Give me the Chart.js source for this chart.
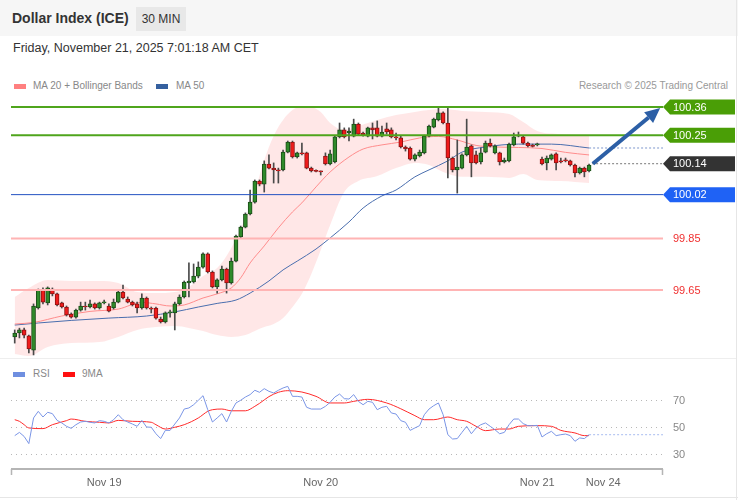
<!DOCTYPE html>
<html lang="en">
<head>
<meta charset="UTF-8">
<title>Dollar Index (ICE)</title>
<script src="https://cdn.jsdelivr.net/npm/chart.js@4.4.1/dist/chart.umd.min.js"></script>
<style>
  body { margin: 0; width: 738px; height: 500px; overflow: hidden; background: #fff;
         font-family: "Liberation Sans", Arial, sans-serif; position: relative; }
  .abs { position: absolute; white-space: nowrap; }
  #head { left: 0; top: 0; width: 738px; height: 36px; background: #f6f6f6; }
  #title { left: 12px; top: 9px; line-height: 18px; font-size: 14px; font-weight: bold; color: #333; }
  #tf { left: 136px; top: 7px; width: 50px; height: 24px; line-height: 24px; text-align: center;
        background: #e8e8e8; font-size: 12px; color: #333; }
  #date { left: 13px; top: 40px; line-height: 16px; font-size: 12.5px; color: #333; }
  .lg { font-size: 10px; line-height: 12px; color: #888; }
  .sw { height: 5px; width: 12px; }
  #frameR { left: 736px; top: 0; width: 1px; height: 500px; background: #e6e6e6; }
  #frameB { left: 0; top: 497px; width: 738px; height: 1px; background: #e6e6e6; }
  #sep { left: 0; top: 358px; width: 737px; height: 1px; background: #eeeeee; }
  canvas { position: absolute; left: 0; }
</style>
</head>
<body>
<div class="abs" id="head"></div>
<div class="abs" id="title">Dollar Index (ICE)</div>
<div class="abs" id="tf">30 MIN</div>
<div class="abs" id="date">Friday, November 21, 2025 7:01:18 AM CET</div>

<div class="abs sw" style="left:14px;top:84px;background:#ff8080"></div>
<div class="abs lg" style="left:33px;top:80px">MA 20 + Bollinger Bands</div>
<div class="abs sw" style="left:156px;top:84px;background:#35609f"></div>
<div class="abs lg" style="left:176px;top:80px">MA 50</div>
<div class="abs lg" style="right:10px;top:80px;color:#999">Research © 2025 Trading Central</div>

<div class="abs" id="sep"></div>
<div class="abs sw" style="left:13px;top:372px;background:#6f8fe0"></div>
<div class="abs lg" style="left:33px;top:368px">RSI</div>
<div class="abs sw" style="left:63px;top:372px;background:#ff1010"></div>
<div class="abs lg" style="left:82px;top:368px">9MA</div>
<div class="abs" id="frameR"></div>
<div class="abs" id="frameB"></div>

<canvas id="price" width="738" height="265" style="top:95px"></canvas>
<canvas id="rsi" width="738" height="120" style="top:380px"></canvas>

<script>
// 30 min candles, Nov 19 - Nov 21
var opens = [99.468,99.483,99.495,99.472,99.417,99.580,99.650,99.600,99.654,99.635,
  99.600,99.584,99.557,99.545,99.572,99.588,99.584,99.596,99.580,99.600,
  99.588,99.580,99.603,99.642,99.615,99.603,99.596,99.580,99.619,99.580,
  99.580,99.537,99.526,99.561,99.561,99.596,99.623,99.677,99.681,99.704,
  99.739,99.790,99.720,99.662,99.689,99.731,99.677,99.762,99.856,99.894,
  99.945,99.991,100.073,100.061,100.139,100.123,100.116,100.116,100.185,100.224,
  100.166,100.182,100.182,100.123,100.112,100.112,100.170,100.139,100.147,100.244,
  100.271,100.259,100.247,100.294,100.259,100.247,100.279,100.279,100.247,100.275,
  100.271,100.244,100.240,100.205,100.201,100.158,100.170,100.182,100.247,100.282,
  100.310,100.337,100.298,100.162,100.116,100.123,100.174,100.209,100.174,100.147,
  100.185,100.220,100.182,100.182,100.147,100.151,100.213,100.247,100.244,100.220,
  100.209,100.213,100.158,100.143,100.158,100.178,100.151,100.154,100.151,100.135,
  100.104,100.123,100.112];
var highs = [99.495,99.502,99.502,99.475,99.596,99.654,99.658,99.662,99.658,99.638,
  99.603,99.588,99.561,99.576,99.603,99.603,99.611,99.600,99.603,99.611,
  99.596,99.615,99.646,99.669,99.623,99.607,99.603,99.635,99.623,99.584,
  99.584,99.545,99.565,99.572,99.603,99.631,99.685,99.755,99.751,99.759,
  99.794,99.794,99.724,99.693,99.743,99.735,99.774,99.863,99.898,99.949,
  100.038,100.077,100.077,100.151,100.174,100.143,100.123,100.193,100.228,100.228,
  100.185,100.220,100.185,100.127,100.116,100.112,100.182,100.193,100.247,100.298,
  100.279,100.279,100.313,100.298,100.263,100.282,100.298,100.306,100.286,100.298,
  100.279,100.259,100.247,100.209,100.205,100.178,100.193,100.251,100.290,100.317,
  100.356,100.341,100.356,100.166,100.232,100.178,100.313,100.213,100.189,100.201,
  100.228,100.236,100.213,100.185,100.162,100.220,100.259,100.263,100.247,100.224,
  100.216,100.220,100.166,100.170,100.178,100.182,100.162,100.162,100.154,100.139,
  100.127,100.127,100.139];
var lows = [99.444,99.464,99.464,99.406,99.398,99.576,99.596,99.592,99.627,99.588,
  99.580,99.549,99.541,99.541,99.568,99.572,99.580,99.576,99.576,99.596,
  99.565,99.576,99.600,99.615,99.600,99.588,99.561,99.576,99.576,99.561,
  99.537,99.522,99.522,99.545,99.495,99.592,99.619,99.623,99.677,99.697,
  99.735,99.716,99.658,99.638,99.685,99.638,99.673,99.759,99.852,99.891,
  99.941,99.987,100.054,100.030,100.120,100.065,100.065,100.112,100.182,100.162,
  100.162,100.174,100.120,100.108,100.108,100.096,100.135,100.135,100.143,100.240,
  100.240,100.228,100.244,100.251,100.247,100.244,100.236,100.244,100.244,100.255,
  100.240,100.232,100.201,100.189,100.154,100.151,100.166,100.178,100.244,100.279,
  100.306,100.294,100.085,100.108,100.026,100.120,100.170,100.089,100.139,100.139,
  100.182,100.205,100.178,100.135,100.143,100.147,100.209,100.244,100.216,100.205,
  100.205,100.209,100.135,100.116,100.154,100.116,100.143,100.147,100.131,100.089,
  100.100,100.089,100.108];
var closes = [99.483,99.495,99.475,99.421,99.588,99.650,99.603,99.658,99.635,99.592,
  99.584,99.553,99.545,99.572,99.588,99.584,99.596,99.580,99.600,99.603,
  99.568,99.603,99.642,99.619,99.603,99.592,99.580,99.619,99.580,99.576,
  99.541,99.526,99.561,99.565,99.596,99.623,99.681,99.685,99.704,99.739,
  99.790,99.720,99.662,99.689,99.731,99.677,99.762,99.859,99.894,99.945,
  99.991,100.073,100.061,100.139,100.123,100.116,100.112,100.185,100.224,100.166,
  100.182,100.178,100.123,100.112,100.110,100.108,100.139,100.178,100.244,100.271,
  100.244,100.267,100.294,100.255,100.251,100.279,100.271,100.247,100.263,100.263,
  100.244,100.240,100.205,100.197,100.158,100.174,100.185,100.247,100.286,100.313,
  100.337,100.298,100.162,100.116,100.127,100.174,100.205,100.143,100.143,100.182,
  100.220,100.209,100.209,100.147,100.154,100.216,100.244,100.251,100.220,100.209,
  100.207,100.216,100.139,100.162,100.174,100.143,100.147,100.151,100.135,100.104,
  100.123,100.108,100.135];

// moving averages and bands, read at sample candles
var ma20Idx = [0,4,10,16,22,27,30,33,36,40,43,46,48,50,53,56,59,61,64,67,71,74,78,82,86,90,94,98,102,107,112,117,122];
var ma20 = [99.518,99.524,99.549,99.567,99.576,99.602,99.596,99.588,99.592,99.619,99.635,99.658,99.697,99.755,99.821,99.891,99.953,99.988,100.050,100.108,100.166,100.197,100.213,100.224,100.240,100.246,100.232,100.211,100.205,100.203,100.199,100.184,100.174];
var ma50Idx = [0,5,12,20,28,34,39,43,47,50,54,57,60,64,67,71,74,78,81,85,88,92,95,100,107,114,122];
var ma50 = [99.514,99.522,99.532,99.541,99.549,99.565,99.584,99.598,99.611,99.638,99.685,99.728,99.762,99.809,99.852,99.914,99.968,100.015,100.038,100.089,100.116,100.151,100.185,100.205,100.216,100.216,100.201];
var bandIdx = [0,3,7,12,18,22,26,30,34,37,40,43,46,49,51,53,55,57,59,61,63,65,67,70,73,77,81,85,88,91,95,100,105,108,111,116,122];
var bandUpper = [99.623,99.658,99.689,99.685,99.685,99.677,99.642,99.638,99.642,99.662,99.704,99.735,99.813,99.929,100.030,100.154,100.248,100.310,100.348,100.364,100.360,100.341,100.298,100.271,100.286,100.310,100.329,100.341,100.348,100.352,100.345,100.341,100.333,100.302,100.267,100.255,100.251];
var bandLower = [99.402,99.394,99.429,99.444,99.448,99.468,99.495,99.506,99.510,99.503,99.491,99.475,99.468,99.475,99.491,99.506,99.518,99.541,99.584,99.635,99.712,99.805,99.902,100.030,100.073,100.092,100.123,100.143,100.135,100.108,100.089,100.089,100.085,100.100,100.077,100.073,100.065];

// key levels
var levels = [100.36, 100.25, 100.02, 99.85, 99.65];
var lastPrice = 100.14;

// RSI panel
var rsi = [43.6,46,43,37.7,56.7,61.6,57.4,60.9,59.9,54.9,
  53,50.5,49,51.7,53.7,54.2,53.5,53,54.7,54.2,
  53,55.4,59.1,55.4,53.7,52.2,50.5,54.9,50,49.8,
  45,41.4,47.5,47.5,52.2,56.7,63.3,64.1,66.5,69.8,
  73.2,62.8,53.7,56.7,59.9,53.7,61.6,67.8,69.8,72.2,
  74,77.2,75.7,78.4,76.4,75.2,77.2,78.9,80.1,72.7,
  72.7,72.2,64.6,63.3,63.3,63.3,65.3,68.3,72.2,74.4,
  71,70.7,74,69,66.5,69,68.3,62.8,64.6,65.3,
  60.4,59.6,54.7,53.5,47.5,49.3,51,59.1,63.3,65.8,
  67.8,59.1,44.3,41.1,41.4,46,50.5,45,49.3,51.7,
  53,50.5,48,45,46,51.7,55.9,55.9,52.5,51,
  51,51.2,42.6,45,46.8,43.6,44.3,44.8,43.6,39.4,
  41.9,41.4,44.3];
var ma9Idx = [0,1,2,3,6,8,11,12,15,18,20,22,25,29,30,32,34,36,39,41,42,44,46,49,51,52,54,56,58,61,64,67,70,72,75,79,82,85,87,89,92,94,96,98,100,103,105,107,111,114,116,119,121,122];
var ma9 = [55.4,54.2,51.7,49.3,48.8,51.7,54.7,55.9,54.2,53.5,53,54.9,54.2,53.5,51.7,48.5,49.8,51.7,56.7,61.6,62.8,63.3,62,62,65.3,67.5,72.5,75.7,76.9,75.9,72.7,67.8,67.8,69,70.5,67.8,63.5,58.4,55.4,55.4,57.4,55.4,54.2,50.5,47.3,48.5,48.5,50.5,51,50.5,47.5,45.6,43.6,43.6];
var rsiLevels = [70, 50, 30];

var tickIdx = [19, 65, 111, 125];
var tickLabels = ['Nov 19', 'Nov 20', 'Nov 21', 'Nov 24'];

var FONT = '"Liberation Sans", Arial, sans-serif';
var X_MIN = -0.79, X_MAX = 137.7;

function pts(xs, ys) {
  return xs.map(function (x, k) { return { x: x, y: ys[k] }; });
}
var candleX = closes.map(function (c, i) { return i; });
function isUp(i) { return closes[i] >= opens[i]; }

var levelStyle = [
  { line: '#4fa51c', width: 2, box: '#4a9e06', text: '#fff' },
  { line: '#4fa51c', width: 2, box: '#4a9e06', text: '#fff' },
  { line: '#2352c2', width: 1, box: '#1f62f5', text: '#fff' },
  { line: '#ffb4b4', width: 2, box: null, text: '#f03030' },
  { line: '#ffb4b4', width: 2, box: null, text: '#f03030' }
];

function tagBox(c, right, y, fill, label) {
  var l = right;
  c.fillStyle = fill;
  c.beginPath();
  c.moveTo(l, y);
  c.lineTo(l + 7, y - 7.5);
  c.lineTo(l + 72, y - 7.5);
  c.lineTo(l + 72, y + 7.5);
  c.lineTo(l + 7, y + 7.5);
  c.closePath();
  c.fill();
  c.fillStyle = '#fff';
  c.fillText(label, l + 10, y + 0.5);
}

var priceDecor = {
  id: 'priceDecor',
  afterDatasetsDraw: function (chart) {
    var c = chart.ctx, xs = chart.scales.x, ys = chart.scales.y, a = chart.chartArea;
    c.save();
    c.font = '11px ' + FONT;
    c.textBaseline = 'middle';
    levels.forEach(function (v, k) {
      var st = levelStyle[k];
      var y = ys.getPixelForValue(v);
      c.strokeStyle = st.line;
      c.lineWidth = st.width;
      c.beginPath(); c.moveTo(a.left, y); c.lineTo(a.right, y); c.stroke();
    });
    var last = closes.length - 1;
    // dotted extensions
    var x0 = xs.getPixelForValue(last) + 3;
    c.setLineDash([2, 2]);
    c.lineWidth = 1;
    c.strokeStyle = '#777';
    var py = ys.getPixelForValue(lastPrice);
    c.beginPath(); c.moveTo(x0, py); c.lineTo(a.right, py); c.stroke();
    c.strokeStyle = '#7d96cc';
    var my = ys.getPixelForValue(ma50[ma50.length - 1]);
    c.beginPath(); c.moveTo(xs.getPixelForValue(last), my); c.lineTo(a.right, my); c.stroke();
    c.setLineDash([]);
    // projection arrow
    var ax = xs.getPixelForValue(last + 0.8), ay = py;
    var bx = xs.getPixelForValue(X_MAX - 0.6), by = ys.getPixelForValue(levels[0]) + 1;
    var ang = Math.atan2(by - ay, bx - ax), hl = 15, hw = 7;
    var hx = bx - hl * Math.cos(ang), hy = by - hl * Math.sin(ang);
    c.strokeStyle = '#2c5fa6';
    c.fillStyle = '#2c5fa6';
    c.lineWidth = 4;
    c.beginPath(); c.moveTo(ax, ay); c.lineTo(hx, hy); c.stroke();
    c.beginPath();
    c.moveTo(bx, by);
    c.lineTo(hx + hw * Math.sin(ang), hy - hw * Math.cos(ang));
    c.lineTo(hx - hw * Math.sin(ang), hy + hw * Math.cos(ang));
    c.closePath(); c.fill();
    // level tags
    levels.forEach(function (v, k) {
      var st = levelStyle[k], y = ys.getPixelForValue(v);
      if (st.box) {
        tagBox(c, a.right, y, st.box, v.toFixed(2));
      } else {
        c.fillStyle = st.text;
        c.fillText(v.toFixed(2), a.right + 10, y + 0.5);
      }
    });
    tagBox(c, a.right, py, '#333333', lastPrice.toFixed(2));
    c.restore();
  }
};

new Chart(document.getElementById('price'), {
  type: 'bar',
  data: {
    datasets: [
      { type: 'line', data: pts(bandIdx, bandUpper), borderColor: 'transparent', borderWidth: 0,
        pointRadius: 0, fill: '+1', backgroundColor: 'rgba(255,60,60,0.12)',
        cubicInterpolationMode: 'monotone', order: 6 },
      { type: 'line', data: pts(bandIdx, bandLower), borderColor: 'transparent', borderWidth: 0,
        pointRadius: 0, fill: false, cubicInterpolationMode: 'monotone', order: 6 },
      { type: 'line', data: pts(ma20Idx, ma20), borderColor: '#ff8c8c', borderWidth: 1,
        pointRadius: 0, fill: false, cubicInterpolationMode: 'monotone', order: 4 },
      { type: 'line', data: pts(ma50Idx, ma50), borderColor: '#4a6eae', borderWidth: 1,
        pointRadius: 0, fill: false, cubicInterpolationMode: 'monotone', order: 4 },
      { type: 'bar', data: candleX.map(function (i) { return { x: i, y: [lows[i], highs[i]] }; }),
        backgroundColor: '#4a4a4a', barThickness: 1, grouped: false, order: 2 },
      { type: 'bar', data: candleX.map(function (i) { return { x: i, y: [opens[i], closes[i]] }; }),
        backgroundColor: function (ctx) { return isUp(ctx.dataIndex) ? '#2f8a2a' : '#ef1b1b'; },
        borderColor: function (ctx) { return isUp(ctx.dataIndex) ? '#1b4d18' : '#8c1212'; },
        borderWidth: 1, borderSkipped: false, barThickness: 4, minBarLength: 1,
        grouped: false, order: 1 }
    ]
  },
  options: {
    responsive: false,
    animation: false,
    events: [],
    layout: { padding: { left: 11, right: 75, top: 0, bottom: 0 } },
    plugins: { legend: { display: false }, tooltip: { enabled: false } },
    scales: {
      x: { type: 'linear', min: X_MIN, max: X_MAX, offset: false, display: false },
      y: { type: 'linear', min: 99.3784, max: 100.4066, beginAtZero: false, display: false }
    }
  },
  plugins: [priceDecor]
});

var rsiDecor = {
  id: 'rsiDecor',
  beforeDatasetsDraw: function (chart) {
    var c = chart.ctx, ys = chart.scales.y, a = chart.chartArea;
    c.save();
    c.strokeStyle = '#b8b8b8';
    c.lineWidth = 1;
    c.setLineDash([1, 4]);
    rsiLevels.forEach(function (v) {
      var y = Math.round(ys.getPixelForValue(v)) + 0.5;
      c.beginPath(); c.moveTo(a.left, y); c.lineTo(a.right, y); c.stroke();
    });
    c.restore();
  },
  afterDatasetsDraw: function (chart) {
    var c = chart.ctx, xs = chart.scales.x, ys = chart.scales.y, a = chart.chartArea;
    c.save();
    var last = rsi.length - 1, ry = ys.getPixelForValue(rsi[last]);
    c.strokeStyle = '#a9bdf0';
    c.lineWidth = 1;
    c.setLineDash([2, 2]);
    c.beginPath(); c.moveTo(xs.getPixelForValue(last), ry); c.lineTo(a.right, ry); c.stroke();
    c.setLineDash([]);
    c.font = '11px ' + FONT;
    c.textBaseline = 'middle';
    c.fillStyle = '#888';
    rsiLevels.forEach(function (v) {
      c.fillText(String(v), a.right + 10, ys.getPixelForValue(v) + 0.5);
    });
    // time axis
    var yb = a.bottom;
    c.strokeStyle = '#b5b5b5';
    c.lineWidth = 2;
    c.beginPath(); c.moveTo(a.left, yb); c.lineTo(a.right, yb); c.stroke();
    c.lineWidth = 1.5;
    c.beginPath();
    c.moveTo(a.left + 0.5, yb); c.lineTo(a.left + 0.5, yb + 6);
    c.moveTo(a.right - 0.5, yb); c.lineTo(a.right - 0.5, yb + 6);
    c.stroke();
    c.fillStyle = '#666';
    c.textAlign = 'center';
    tickIdx.forEach(function (t, k) {
      c.fillText(tickLabels[k], xs.getPixelForValue(t), yb + 14);
    });
    c.restore();
  }
};

new Chart(document.getElementById('rsi'), {
  type: 'line',
  data: {
    datasets: [
      { data: pts(candleX, rsi), borderColor: '#7a95e6', borderWidth: 1, pointRadius: 0,
        fill: false, tension: 0 },
      { data: pts(ma9Idx, ma9), borderColor: '#ff2a2a', borderWidth: 1, pointRadius: 0,
        fill: false, cubicInterpolationMode: 'monotone' }
    ]
  },
  options: {
    responsive: false,
    animation: false,
    events: [],
    layout: { padding: { left: 11, right: 75, top: 0, bottom: 31 } },
    plugins: { legend: { display: false }, tooltip: { enabled: false } },
    scales: {
      x: { type: 'linear', min: X_MIN, max: X_MAX, display: false },
      y: { type: 'linear', min: 18.89, max: 84.81, display: false }
    }
  },
  plugins: [rsiDecor]
});
</script>
</body>
</html>
